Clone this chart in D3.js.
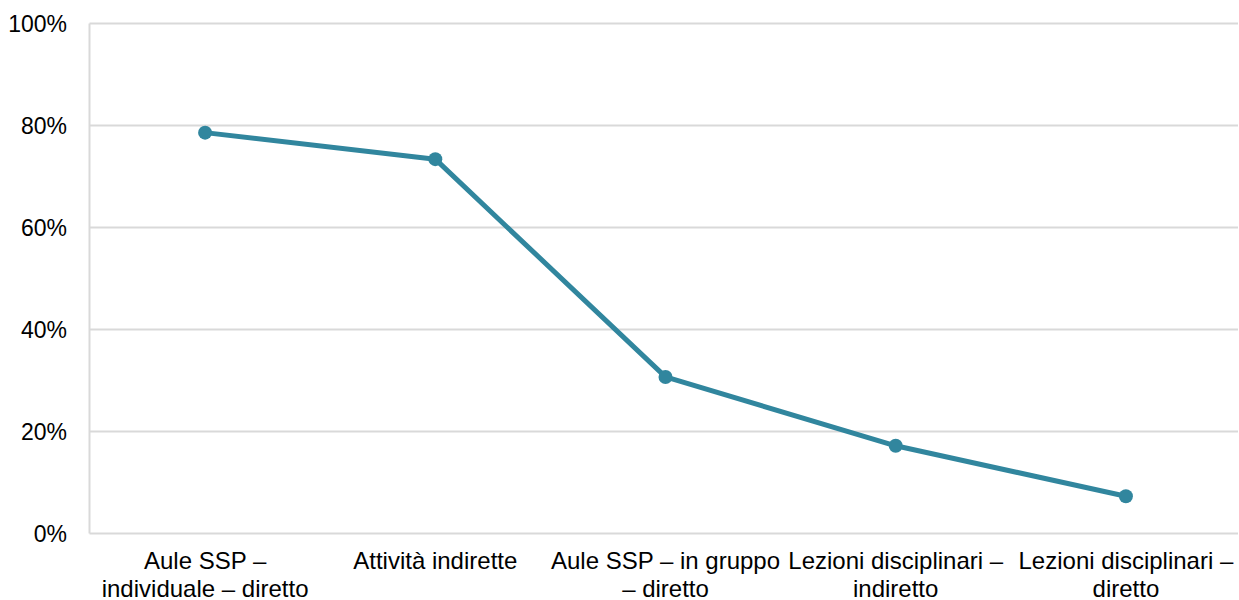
<!DOCTYPE html>
<html>
<head>
<meta charset="utf-8">
<script src="https://cdn.jsdelivr.net/npm/d3@7"></script>
<style>
  html, body { margin: 0; padding: 0; background: #fff; }
  svg { display: block; }
  text { font-family: "Liberation Sans", Arial, sans-serif; fill: #000; }
</style>
</head>
<body>
<svg id="chart" width="1239" height="600"></svg>
<script>
const categories = [
  "Aule SSP – individuale – diretto",
  "Attività indirette",
  "Aule SSP – in gruppo – diretto",
  "Lezioni disciplinari – indiretto",
  "Lezioni disciplinari – diretto"
];
const categoryLines = [
  ["Aule SSP –", "individuale – diretto"],
  ["Attività indirette"],
  ["Aule SSP – in gruppo", "– diretto"],
  ["Lezioni disciplinari –", "indiretto"],
  ["Lezioni disciplinari –", "diretto"]
];
const values = [78.6, 73.4, 30.7, 17.2, 7.3];
const yTicks = [0, 20, 40, 60, 80, 100];

(function () {
const svg = d3.select("#chart");
const mLeft = 90, mRight = 1241, mTop = 23.5, mBottom = 533.5, gridRight = 1238;

const x = d3.scaleBand().domain(categories).range([mLeft, mRight]).padding(0);
const y = d3.scaleLinear().domain([0, 100]).range([mBottom, mTop]);
const cx = c => x(c) + x.bandwidth() / 2;

// gridlines
svg.append("g").selectAll("line").data(yTicks).join("line")
  .attr("x1", mLeft - 0.5).attr("x2", gridRight)
  .attr("y1", d => y(d)).attr("y2", d => y(d))
  .attr("stroke", "#d9d9d9").attr("stroke-width", 2);

// left axis line
svg.append("line")
  .attr("x1", mLeft - 0.5).attr("x2", mLeft - 0.5)
  .attr("y1", y(100)).attr("y2", y(0))
  .attr("stroke", "#d9d9d9").attr("stroke-width", 2);

// y tick labels
svg.append("g").selectAll("text").data(yTicks).join("text")
  .attr("x", 67).attr("y", d => y(d))
  .attr("dy", "0.35em")
  .attr("text-anchor", "end")
  .style("font-size", "23px")
  .text(d => d + "%");

// x labels
const xl = svg.append("g").selectAll("text").data(categories).join("text")
  .attr("text-anchor", "middle")
  .style("font-size", "24px")
  .attr("x", d => cx(d))
  .attr("y", 569);
xl.each(function(d, i) {
  d3.select(this).selectAll("tspan").data(categoryLines[i]).join("tspan")
    .attr("x", cx(d))
    .attr("dy", (t, j) => j === 0 ? 0 : 27.5)
    .text(t => t);
});

// line
const color = "#31869e";
const line = d3.line().x((d, i) => cx(categories[i])).y(d => y(d));
svg.append("path").datum(values)
  .attr("d", line)
  .attr("fill", "none")
  .attr("stroke", color)
  .attr("stroke-width", 5)
  .attr("stroke-linejoin", "round");

svg.append("g").selectAll("circle").data(values).join("circle")
  .attr("cx", (d, i) => cx(categories[i]))
  .attr("cy", d => y(d))
  .attr("r", 7)
  .attr("fill", color);
})();
</script>
</body>
</html>
